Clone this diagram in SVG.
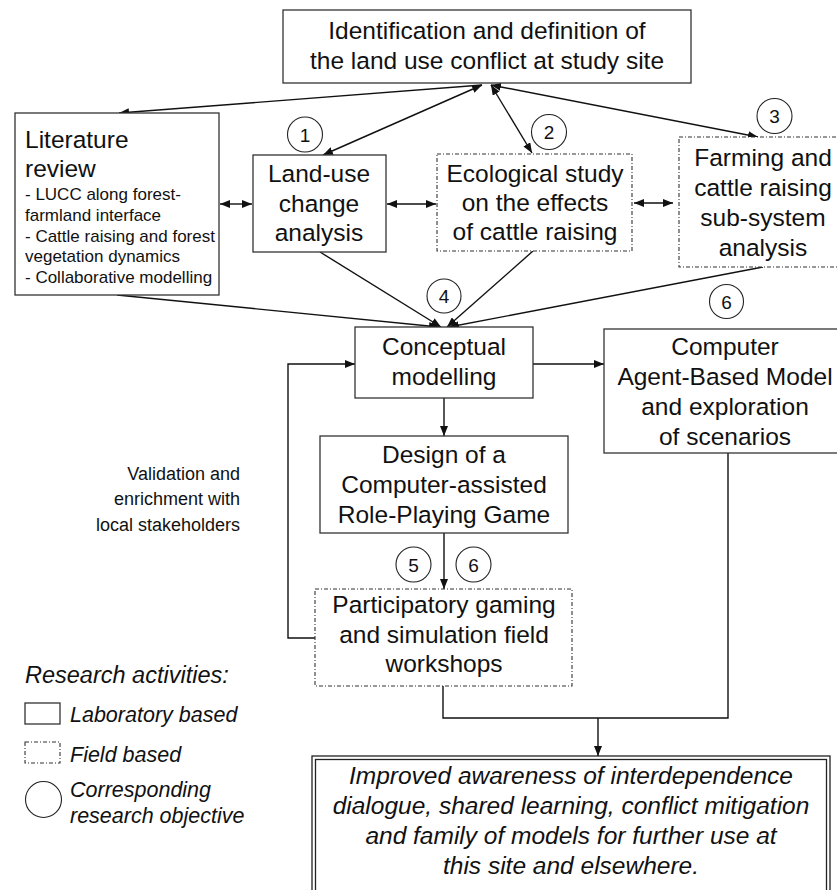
<svg xmlns="http://www.w3.org/2000/svg" width="837" height="890" viewBox="0 0 837 890">
<style>
text{font-family:"Liberation Sans",Arial,sans-serif;fill:#111}
.t{font-size:24.5px;text-anchor:middle}
.s{font-size:17px}
.n{font-size:19px;text-anchor:middle}
.it{font-style:italic}
.box{fill:#fff;stroke:#333;stroke-width:1.3}
.field{fill:#fff;stroke:#333;stroke-width:1.1;stroke-dasharray:4 2 1 2}
.circ{fill:none;stroke:#222;stroke-width:1.1}
.c{fill:none;stroke:#111;stroke-width:1.4}
</style>
<defs>
<marker id="ah" viewBox="0 0 10 8" refX="10" refY="4" markerWidth="10" markerHeight="8" markerUnits="userSpaceOnUse" orient="auto-start-reverse">
<path d="M0,0 L10,4 L0,8 Z" fill="#111"/>
</marker>
</defs>

<g id="connectors">
<line class="c" x1="482" y1="85" x2="119" y2="113" marker-end="url(#ah)"/>
<line class="c" x1="482" y1="85" x2="323" y2="155" marker-start="url(#ah)" marker-end="url(#ah)"/>
<line class="c" x1="491" y1="85" x2="532" y2="153" marker-start="url(#ah)" marker-end="url(#ah)"/>
<line class="c" x1="491" y1="85" x2="758" y2="137" marker-start="url(#ah)" marker-end="url(#ah)"/>
<line class="c" x1="220" y1="204" x2="252" y2="204" marker-start="url(#ah)" marker-end="url(#ah)"/>
<line class="c" x1="387" y1="204" x2="436" y2="204" marker-start="url(#ah)" marker-end="url(#ah)"/>
<line class="c" x1="634" y1="203" x2="673" y2="203" marker-start="url(#ah)" marker-end="url(#ah)"/>
<line class="c" x1="117" y1="295" x2="439" y2="327" marker-end="url(#ah)"/>
<line class="c" x1="320" y1="252" x2="441" y2="327" marker-end="url(#ah)"/>
<line class="c" x1="533" y1="251" x2="447" y2="327" marker-end="url(#ah)"/>
<line class="c" x1="763" y1="267" x2="449" y2="327" marker-end="url(#ah)"/>
<line class="c" x1="533" y1="364" x2="604" y2="364" marker-end="url(#ah)"/>
<line class="c" x1="444" y1="398" x2="444" y2="436" marker-end="url(#ah)"/>
<line class="c" x1="444" y1="533" x2="444" y2="589" marker-end="url(#ah)"/>
<polyline class="c" points="315,638 288,638 288,364 355,364" marker-end="url(#ah)"/>
<polyline class="c" points="443,686 443,718 728,718 728,453"/>
<line class="c" x1="598" y1="718" x2="598" y2="756" marker-end="url(#ah)"/>
</g>

<g id="n-top">
<rect class="box" x="283" y="10" width="408" height="73"/>
<text class="t" x="487" y="39">Identification and definition of</text>
<text class="t" x="487" y="69">the land use conflict at study site</text>
</g>

<g id="n-literature">
<rect class="box" x="15" y="113" width="204" height="182"/>
<text x="25" y="148" style="font-size:24.5px">Literature</text>
<text x="25" y="177" style="font-size:24.5px">review</text>
<text class="s" x="25" y="200">- LUCC along forest-</text>
<text class="s" x="25" y="221">farmland interface</text>
<text class="s" x="25" y="242">- Cattle raising and forest</text>
<text class="s" x="25" y="262">vegetation dynamics</text>
<text class="s" x="25" y="283">- Collaborative modelling</text>
</g>

<g id="n-landuse">
<rect class="box" x="253" y="155" width="133" height="97"/>
<text class="t" x="319" y="182">Land-use</text>
<text class="t" x="319" y="212">change</text>
<text class="t" x="319" y="241">analysis</text>
</g>

<g id="n-ecological">
<rect class="field" x="437" y="154" width="195" height="97"/>
<text class="t" x="535" y="182">Ecological study</text>
<text class="t" x="535" y="211">on the effects</text>
<text class="t" x="535" y="240">of cattle raising</text>
</g>

<g id="n-farming">
<rect class="field" x="679" y="137" width="170" height="130"/>
<text class="t" x="763" y="166">Farming and</text>
<text class="t" x="763" y="196">cattle raising</text>
<text class="t" x="763" y="226">sub-system</text>
<text class="t" x="763" y="256">analysis</text>
</g>

<g id="n-conceptual">
<rect class="box" x="355" y="327" width="178" height="71"/>
<text class="t" x="444" y="355">Conceptual</text>
<text class="t" x="444" y="385">modelling</text>
</g>

<g id="n-abm">
<rect class="box" x="604" y="329" width="245" height="124"/>
<text class="t" x="725" y="355">Computer</text>
<text class="t" x="725" y="385">Agent-Based Model</text>
<text class="t" x="725" y="415">and exploration</text>
<text class="t" x="725" y="445">of scenarios</text>
</g>

<g id="n-design">
<rect class="box" x="320" y="436" width="248" height="97"/>
<text class="t" x="444" y="463">Design of a</text>
<text class="t" x="444" y="493">Computer-assisted</text>
<text class="t" x="444" y="523">Role-Playing Game</text>
</g>

<g id="n-participatory">
<rect class="field" x="315" y="589" width="257" height="97"/>
<text class="t" x="444" y="613">Participatory gaming</text>
<text class="t" x="444" y="643">and simulation field</text>
<text class="t" x="444" y="672">workshops</text>
</g>

<g id="n-outcome">
<rect x="312" y="756" width="518" height="150" fill="#fff" stroke="#222" stroke-width="1.3"/>
<rect x="315.5" y="759.5" width="511" height="143" fill="none" stroke="#222" stroke-width="1.3"/>
<text class="t it" x="571" y="784">Improved awareness of interdependence</text>
<text class="t it" x="571" y="814">dialogue, shared learning, conflict mitigation</text>
<text class="t it" x="571" y="844">and family of models for further use at</text>
<text class="t it" x="571" y="874">this site and elsewhere.</text>
</g>

<g id="objectives">
<circle class="circ" cx="305" cy="134.5" r="17.5"/><text class="n" x="305" y="141.5">1</text>
<circle class="circ" cx="549" cy="132" r="17.5"/><text class="n" x="549" y="139">2</text>
<circle class="circ" cx="774.5" cy="116" r="17.5"/><text class="n" x="774.5" y="123">3</text>
<circle class="circ" cx="444" cy="296" r="17"/><text class="n" x="444" y="303">4</text>
<circle class="circ" cx="726.5" cy="301.5" r="17"/><text class="n" x="726.5" y="308.5">6</text>
<circle class="circ" cx="413.5" cy="564.5" r="17.5"/><text class="n" x="413.5" y="571.5">5</text>
<circle class="circ" cx="473.5" cy="564.5" r="17.5"/><text class="n" x="473.5" y="571.5">6</text>
</g>

<g id="validation-label">
<text x="240" y="480" style="font-size:18px;text-anchor:end">Validation and</text>
<text x="240" y="505" style="font-size:18px;text-anchor:end">enrichment with</text>
<text x="240" y="531" style="font-size:18px;text-anchor:end">local stakeholders</text>
</g>

<g id="legend">
<text class="it" x="25" y="683" style="font-size:23.5px">Research activities:</text>
<rect class="box" x="25" y="703" width="35" height="21"/>
<text class="it" x="70" y="722" style="font-size:21.5px">Laboratory based</text>
<rect class="field" x="25" y="742" width="35" height="21"/>
<text class="it" x="70" y="762" style="font-size:21.5px">Field based</text>
<circle class="circ" cx="43.5" cy="799.5" r="18"/>
<text class="it" x="70" y="797" style="font-size:21.5px">Corresponding</text>
<text class="it" x="70" y="823" style="font-size:21.5px">research objective</text>
</g>
</svg>
